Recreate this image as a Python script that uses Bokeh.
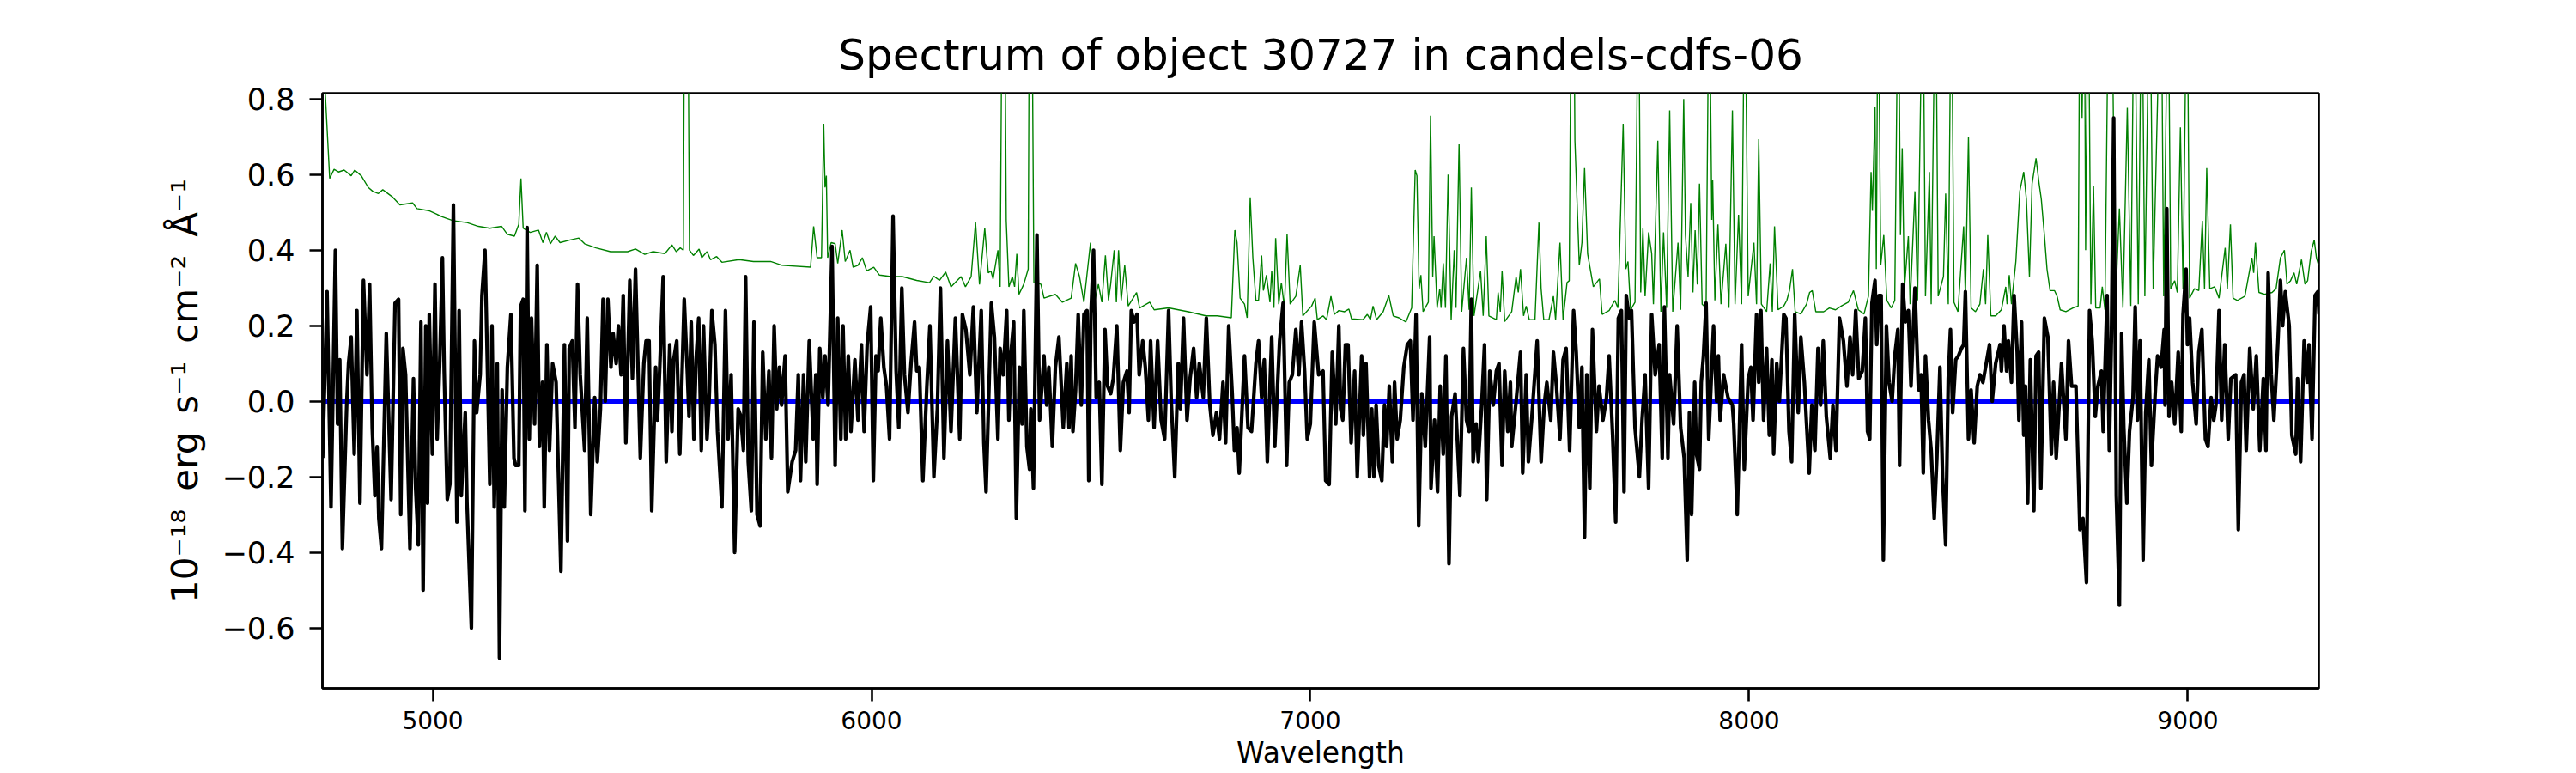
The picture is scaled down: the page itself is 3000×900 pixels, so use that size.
from bokeh.plotting import figure
from bokeh.models import Range1d, FixedTicker, CustomJSTickFormatter, Span, ColumnDataSource
from bokeh.embed import file_html
from bokeh.resources import INLINE

# ---------------- data ----------------
title_text = "Spectrum of object 30727 in candels-cdfs-06"
x_label = "Wavelength"
y_label = "10\u207b\u00b9\u2078\u2002erg\u2002s\u207b\u00b9\u2002cm\u207b\u00b2\u2002\u00c5\u207b\u00b9"

x_ticks = [5000, 6000, 7000, 8000, 9000]
y_ticks = [-0.6, -0.4, -0.2, 0.0, 0.2, 0.4, 0.6, 0.8]
x_limits = [4748.5, 9298.5]
y_limits = [-0.760, 0.8155]
zero_level = 0.0

# observed flux (black)
flux_wave = [
    4749, 4759, 4768, 4778, 4783, 4788, 4794, 4804, 4808, 4814, 4821, 4827, 4834, 4842, 4850, 4856,
    4862, 4868, 4873, 4877, 4883, 4894, 4905, 4914, 4922, 4927, 4932, 4938, 4948, 4956, 4961, 4967,
    4973, 4978, 4984, 4988, 4992, 4999, 5005, 5010, 5016, 5022, 5026, 5033, 5039, 5047, 5055, 5060,
    5065, 5074, 5078, 5088, 5095, 5100, 5108, 5112, 5119, 5126, 5130, 5135, 5140, 5147, 5152, 5158,
    5163, 5170, 5178, 5185, 5189, 5196, 5200, 5206, 5210, 5215, 5220, 5225, 5232, 5238, 5243, 5250,
    5254, 5260, 5266, 5273, 5281, 5292, 5300, 5307, 5311, 5318, 5324, 5330, 5336, 5346, 5352, 5360,
    5369, 5375, 5382, 5388, 5393, 5399, 5406, 5411, 5418, 5423, 5429, 5434, 5440, 5449, 5455, 5462,
    5473, 5481, 5486, 5493, 5499,
    5508, 5512, 5517, 5525, 5532, 5540, 5545, 5549, 5556, 5563, 5573, 5580, 5584, 5589, 5595, 5600,
    5606, 5612, 5617, 5625, 5630, 5636, 5643, 5649, 5659, 5667, 5673, 5680, 5688, 5696, 5702, 5708,
    5713, 5719, 5726, 5732, 5739, 5746, 5752, 5759, 5766, 5772, 5778, 5784, 5790, 5795, 5803, 5809,
    5819, 5827, 5833, 5838, 5845, 5850, 5858, 5867, 5873, 5876, 5882, 5889, 5894, 5901, 5910, 5917,
    5923, 5930, 5935, 5941, 5947, 5953, 5962, 5969, 5977, 5983, 5990, 5998, 6004, 6010, 6015, 6021,
    6028, 6034, 6041, 6049, 6056, 6062, 6069, 6075, 6083, 6090, 6098, 6103, 6109, 6117, 6126, 6133,
    6142, 6150, 6157, 6165, 6173, 6181, 6191, 6201, 6207, 6215, 6224, 6232, 6240, 6250, 6256, 6261,
    6273, 6280, 6288, 6293, 6300, 6308, 6313, 6318, 6324, 6330, 6337, 6343, 6347, 6354, 6360, 6363,
    6369, 6377, 6383, 6393, 6399, 6404, 6412, 6419, 6427, 6437, 6445, 6450, 6455, 6459, 6465, 6471,
    6478, 6484, 6491, 6495, 6500, 6506, 6512, 6519, 6525, 6532, 6538, 6545, 6551, 6559, 6567, 6574,
    6582, 6587, 6592, 6598, 6605, 6610, 6618, 6624, 6631, 6636, 6644, 6652, 6660, 6668, 6677, 6683,
    6691, 6699, 6704, 6711, 6719, 6726, 6734, 6741, 6747, 6756, 6763, 6771, 6778, 6786, 6793, 6801,
    6807, 6814, 6822, 6827, 6833, 6838, 6850, 6858, 6866, 6876, 6882, 6889, 6895, 6902, 6912, 6919,
    6930, 6938, 6946, 6952, 6959, 6967, 6974, 6980, 6987, 6993, 7000, 7009, 7019,
    7029, 7035, 7043, 7050, 7058, 7065, 7069, 7074, 7080, 7086, 7093, 7101, 7107, 7117, 7121, 7127,
    7135, 7140, 7145, 7150, 7156, 7163, 7169, 7174, 7180, 7187, 7192, 7198, 7205, 7213, 7221, 7228,
    7234, 7241, 7247, 7254, 7262, 7272, 7275, 7283, 7290, 7296, 7303, 7309, 7316, 7322, 7330, 7341,
    7349, 7356, 7362, 7367, 7371, 7378, 7383, 7391, 7397, 7402, 7409, 7417, 7424, 7430, 7437, 7443,
    7450, 7456, 7459, 7469, 7479, 7484, 7492, 7497, 7505, 7517, 7526, 7533, 7539, 7548, 7554, 7561,
    7569, 7576, 7583, 7591, 7600, 7606, 7613, 7619, 7625, 7630, 7637, 7643, 7652, 7658, 7667, 7675,
    7681, 7689, 7696, 7702, 7709, 7715, 7720, 7727, 7732, 7740, 7750, 7756, 7763, 7771, 7778, 7786,
    7795, 7802, 7807,
    7815, 7819, 7828, 7836, 7844, 7852, 7859, 7864, 7869, 7876, 7880, 7887, 7891, 7896, 7902, 7908,
    7919, 7926, 7930, 7934, 7942, 7952, 7962, 7965, 7973, 7983, 7989, 7998, 8004, 8009, 8017, 8022,
    8027, 8033, 8040, 8046, 8052, 8056, 8063, 8069, 8079, 8084, 8091, 8097, 8104, 8112, 8118, 8126,
    8131, 8137, 8143, 8150, 8157, 8163, 8169, 8176, 8185, 8191, 8198, 8206, 8215, 8223, 8230, 8236,
    8243, 8250, 8258, 8265, 8270, 8275, 8280, 8287, 8291, 8296, 8301, 8306, 8313, 8319, 8326, 8332,
    8339, 8343, 8350, 8356, 8363, 8369, 8378, 8386, 8392, 8397, 8402, 8409, 8415, 8422, 8428, 8435,
    8441, 8448, 8454, 8459, 8464, 8471, 8477, 8484, 8489, 8493, 8500, 8506, 8513, 8520, 8526, 8533,
    8539, 8548, 8554, 8562, 8572,
    8575, 8581, 8587, 8591, 8598, 8604, 8611, 8615, 8621, 8626, 8630, 8635, 8641, 8649, 8654, 8660,
    8665, 8673, 8681, 8689, 8694, 8700, 8712, 8722, 8728, 8735, 8745, 8754, 8761, 8769, 8776, 8782,
    8789, 8795, 8803, 8807, 8813, 8816, 8821, 8826, 8831, 8837, 8844, 8849, 8854, 8861, 8867, 8875,
    8880, 8885, 8891, 8898, 8904, 8911, 8917, 8926, 8931, 8939, 8946, 8948, 8952, 8957, 8963, 8970,
    8978, 8985, 8989, 8996, 8999, 9004, 9011, 9019, 9025, 9032, 9040, 9046, 9053, 9059, 9064, 9071,
    9077, 9084, 9092, 9098, 9109, 9115, 9122, 9128, 9133, 9141, 9149, 9156, 9164, 9172, 9178, 9183,
    9190, 9196, 9205, 9211, 9216, 9222, 9231, 9237, 9246, 9250, 9257, 9265, 9272, 9276, 9283, 9290,
    9296, 9299,
]
flux_value = [
    -0.15, 0.29, -0.28, 0.40, -0.06, 0.11, -0.39, 0.00, 0.10, 0.17, -0.14, 0.24, -0.27, 0.32, 0.07, 0.31,
    -0.07, -0.25, -0.12, -0.31, -0.39, 0.18, -0.26, 0.26, 0.27, -0.30, 0.14, 0.07, -0.39, 0.06, -0.23, -0.38,
    0.21, -0.50, 0.20, -0.27, 0.23, -0.14, 0.31, -0.10, 0.11, 0.38, 0.08, -0.26, -0.22, 0.52, -0.32, 0.24,
    -0.25, -0.03, -0.27, -0.60, 0.16, -0.03, 0.07, 0.28, 0.40, 0.01, -0.22, 0.20, -0.28, 0.10, -0.68, 0.03,
    -0.28, 0.09, 0.23, -0.15, -0.17, -0.17, 0.25, 0.27, -0.29, 0.46, -0.10, 0.22, -0.06, 0.36, -0.12, 0.05,
    -0.28, 0.15, -0.13, 0.10, 0.05, -0.45, 0.15, -0.37, 0.14, 0.16, -0.07, 0.31, 0.07, -0.13, 0.22, -0.30,
    0.01, -0.16, -0.02, 0.27, 0.00, 0.27, 0.09, 0.18, 0.10, 0.20, 0.07, 0.28, -0.11, 0.32, 0.06, 0.35,
    -0.15, 0.10, 0.16, 0.16, -0.29,
    0.09, -0.05, 0.08, 0.33, -0.16, 0.15, -0.08, 0.11, 0.16, -0.14, 0.27, 0.08, -0.04, 0.21, -0.10, 0.11,
    0.22, -0.13, 0.20, -0.10, 0.01, 0.24, 0.15, -0.08, -0.28, 0.24, -0.10, 0.07, -0.40, -0.02, -0.04, -0.13,
    0.33, -0.16, -0.29, 0.21, -0.30, -0.33, 0.13, -0.10, 0.08, -0.15, 0.20, -0.02, 0.09, -0.01, 0.12, -0.24,
    -0.16, -0.13, 0.07, -0.21, 0.07, -0.16, 0.16, -0.10, 0.07, -0.22, 0.14, 0.01, 0.12, -0.01, 0.41, -0.17,
    0.22, -0.10, 0.20, -0.10, 0.12, -0.08, 0.11, -0.05, 0.15, -0.08, 0.15, 0.25, -0.21, 0.12, 0.08, 0.22,
    0.09, 0.04, -0.10, 0.49, 0.08, -0.07, 0.30, 0.07, -0.03, 0.10, 0.21, 0.08, 0.09, -0.21, 0.04, 0.20,
    -0.20, -0.02, 0.30, -0.15, 0.16, -0.08, 0.22, -0.10, 0.23, 0.19, 0.07, 0.25, -0.03, 0.24, -0.11, -0.24,
    0.26, 0.17, -0.10, 0.14, 0.07, 0.24, -0.05, 0.13, 0.21, -0.31, 0.09, -0.06, 0.24, -0.12, -0.18, -0.02,
    -0.23, 0.44, -0.05, 0.12, -0.01, 0.09, -0.12, 0.09, 0.17, -0.07, 0.10, -0.07, 0.12, -0.08, 0.03, 0.23,
    -0.01, 0.23, 0.24, -0.21, 0.23, 0.40, 0.01, 0.05, -0.22, 0.19, 0.04, 0.02, 0.06, 0.20, -0.13, 0.05,
    0.08, -0.03, 0.24, 0.21, 0.23, 0.07, 0.16, 0.09, -0.05, 0.16, -0.07, 0.16, -0.05, -0.10, 0.24, 0.00,
    -0.20, 0.10, -0.02, 0.22, -0.05, 0.06, 0.14, 0.01, 0.10, 0.01, 0.22, -0.01, -0.09, -0.03, -0.10, 0.05,
    -0.11, 0.20, 0.02, -0.13, -0.07, -0.19, 0.12, -0.07, -0.08, 0.10, 0.16, 0.01, 0.11, -0.16, 0.17, -0.12,
    0.16, 0.26, -0.17, 0.05, 0.07, 0.19, 0.07, 0.21, 0.08, -0.10, -0.06, 0.21, 0.07,
    0.08, -0.21, -0.22, 0.13, -0.06, 0.20, -0.02, -0.05, 0.15, 0.15, -0.11, 0.08, -0.20, 0.12, -0.09, 0.10,
    -0.20, -0.02, -0.20, -0.01, -0.17, -0.21, -0.01, -0.12, 0.04, -0.16, 0.05, -0.10, -0.05, 0.09, 0.15, 0.16,
    -0.05, 0.23, -0.33, 0.02, -0.12, 0.17, -0.23, -0.05, -0.24, 0.04, -0.14, 0.12, -0.43, -0.04, 0.02, -0.25,
    0.14, -0.05, -0.08, 0.27, -0.16, -0.06, -0.16, 0.00, 0.15, -0.26, 0.08, -0.01, 0.08, 0.10, -0.17, 0.08,
    -0.08, 0.05, -0.12, 0.00, 0.13, -0.19, 0.07, -0.16, -0.04, 0.16, -0.16, -0.01, 0.05, -0.05, 0.13, 0.04,
    -0.10, 0.11, 0.14, -0.13, 0.24, 0.13, -0.07, 0.09, -0.36, 0.07, -0.23, 0.19, -0.08, 0.04, -0.05, 0.01,
    0.12, -0.09, -0.32, 0.22, 0.24, -0.24, 0.28, 0.22, 0.24, -0.07, -0.20, -0.05, 0.07, -0.23, 0.23, 0.07,
    0.15, -0.15, 0.25,
    -0.15, 0.07, -0.06, 0.20, -0.07, -0.15, -0.42, -0.03, -0.30, 0.05, -0.14, -0.18, 0.05, 0.12, 0.26, -0.10,
    0.20, 0.00, 0.12, -0.05, 0.07, 0.01, -0.01, -0.06, -0.30, 0.15, -0.18, 0.06, 0.09, -0.05, 0.23, 0.05,
    0.24, -0.05, 0.14, -0.09, 0.11, -0.14, 0.10, 0.00, 0.23, 0.22, -0.08, -0.16, 0.23, -0.03, 0.17, 0.05,
    -0.06, -0.19, -0.01, -0.13, 0.14, -0.01, 0.16, -0.04, -0.15, -0.01, -0.13, 0.22, 0.16, 0.04, 0.17, 0.07,
    0.24, 0.06, 0.08, 0.22, -0.08, -0.10, 0.26, 0.32, 0.15, 0.28, 0.28, -0.42, 0.20, 0.05, 0.00, 0.12,
    0.19, -0.17, 0.31, 0.21, 0.24, 0.04, 0.30, 0.03, 0.07, -0.19, 0.12, -0.05, -0.13, -0.31, -0.15, 0.09,
    -0.20, -0.38, 0.06, 0.19, -0.03, 0.11, 0.12, 0.14, 0.15, 0.29, -0.10, 0.03, -0.11, 0.04, 0.07, 0.05,
    0.09, 0.15, 0.00, 0.10, 0.15,
    0.08, 0.20, 0.08, 0.16, 0.05, 0.28, 0.13, -0.05, 0.21, -0.09, 0.04, -0.27, 0.11, -0.29, 0.12, 0.13,
    -0.23, 0.22, 0.17, -0.14, 0.05, -0.15, 0.10, -0.10, 0.16, 0.04, 0.04, -0.34, -0.31, -0.48, 0.24, 0.16,
    -0.04, 0.04, 0.08, -0.08, 0.16, 0.28, -0.13, 0.18, 0.75, -0.25, -0.54, 0.18, -0.07, -0.27, -0.08, 0.01,
    0.25, -0.05, 0.16, -0.42, -0.03, 0.11, -0.17, 0.03, 0.12, 0.09, 0.19, -0.01, 0.51, -0.04, 0.05, -0.06,
    0.13, -0.08, 0.23, 0.35, 0.15, 0.22, 0.05, -0.06, 0.13, 0.19, -0.10, -0.12, 0.01, -0.05, -0.01, 0.24,
    -0.05, 0.15, -0.10, 0.06, 0.07, -0.34, 0.05, 0.07, -0.13, 0.14, -0.02, 0.12, -0.13, 0.06, -0.13, 0.34,
    0.07, -0.05, 0.15, 0.32, 0.20, 0.29, 0.20, -0.09, -0.14, 0.06, -0.16, 0.16, 0.05, 0.15, -0.10, 0.28,
    0.29, 0.23,
]

# noise / sky spectrum (green); 1.20 marks lines running off the top of the axes
noise_wave = [
    4749, 4765, 4775, 4785, 4798, 4814, 4822, 4837, 4853, 4863, 4876, 4886, 4909, 4925, 4954, 4964,
    4993, 5020, 5046, 5078, 5104, 5130, 5157, 5170, 5186, 5196, 5201, 5206, 5222, 5241, 5251, 5259,
    5268, 5279, 5290, 5313, 5333, 5346, 5372, 5405, 5444, 5462, 5483,
    5502, 5529, 5545, 5555, 5564, 5571, 5574, 5581, 5585, 5594, 5607, 5613, 5625, 5633, 5647, 5659,
    5698, 5731, 5770, 5796, 5861, 5868, 5876, 5886, 5891, 5894, 5897, 5900, 5908, 5917, 5923, 5933,
    5940, 5951, 5958, 5969, 5979, 5989, 6005, 6018, 6044, 6070, 6103, 6132, 6142, 6155, 6169, 6181,
    6204, 6214, 6227, 6237, 6246, 6258,
    6266, 6272, 6277, 6288, 6293, 6298, 6303, 6307, 6313, 6321, 6326, 6331, 6336, 6347, 6357, 6360,
    6365, 6370, 6386, 6393, 6419, 6435, 6455, 6465, 6474, 6484, 6499, 6507, 6517, 6525, 6533, 6540,
    6545, 6553, 6558, 6563, 6569, 6577, 6585, 6604, 6611, 6634, 6644, 6677, 6722, 6762, 6788, 6820,
    6828, 6833, 6840, 6850, 6856, 6863, 6869, 6876, 6882, 6889, 6893, 6900, 6908, 6912, 6917, 6921,
    6928, 6934, 6941, 6947, 6954, 6967, 6977, 6983, 7003, 7011, 7016,
    7029, 7037, 7047, 7055, 7065, 7078, 7088, 7094, 7120, 7130, 7137, 7143, 7151, 7166, 7179, 7189,
    7202, 7218, 7231, 7239, 7243, 7248, 7252, 7257, 7269, 7274, 7279, 7282, 7289, 7295, 7298, 7303,
    7308, 7314, 7321, 7328, 7332, 7339, 7345, 7356, 7362, 7367, 7373, 7388, 7394, 7401, 7407, 7424,
    7428, 7433, 7437, 7443, 7459, 7469, 7474, 7479, 7486, 7492, 7499, 7512, 7521, 7526, 7532, 7544,
    7554, 7559, 7569, 7576, 7585, 7590, 7595, 7600, 7603, 7613, 7619, 7625, 7632, 7645, 7659, 7665,
    7681, 7694, 7701, 7713, 7719, 7724, 7730, 7740, 7748, 7753, 7758, 7763, 7771, 7778, 7782,
    7792, 7799, 7805, 7812, 7819, 7826, 7838, 7844, 7851, 7855, 7861, 7867, 7872, 7877, 7882, 7887,
    7893, 7902, 7909, 7915, 7917, 7922, 7929, 7936, 7947, 7954, 7962, 7968, 7976, 7983, 7990, 7998,
    8011, 8017, 8022, 8028, 8040, 8048, 8053, 8058, 8066, 8079, 8086, 8092, 8099, 8105, 8118, 8131,
    8138, 8144, 8152, 8170, 8183, 8197, 8210, 8226, 8238, 8249, 8262, 8272, 8278, 8281, 8287, 8290,
    8294, 8300, 8307, 8314, 8324, 8332, 8340, 8345, 8349, 8354, 8363, 8367, 8378, 8384, 8396, 8402,
    8411, 8415, 8425, 8431, 8443, 8448, 8454, 8461, 8467, 8476, 8489, 8493, 8500, 8506, 8516, 8526,
    8534, 8539, 8544, 8551, 8562,
    8575, 8585, 8588, 8593, 8598, 8608, 8617, 8626, 8632, 8639, 8645, 8654, 8661, 8666, 8673, 8679,
    8686, 8696, 8702, 8709, 8722, 8738, 8750, 8754, 8759, 8764, 8767, 8773, 8779, 8785, 8790, 8800,
    8805, 8811, 8820, 8826, 8835, 8844, 8852, 8862, 8870, 8878, 8887, 8895, 8902, 8913, 8921, 8939,
    8945, 8955, 8961, 8970, 8976, 8983, 8989, 8998, 9004, 9015, 9025, 9033, 9038, 9043, 9050, 9061,
    9071, 9085, 9090, 9097, 9103, 9113, 9130, 9146, 9150, 9154, 9162, 9175, 9192, 9201, 9211, 9220,
    9226, 9234, 9242, 9248, 9259, 9267, 9273, 9281, 9288, 9293, 9298,
]
noise_value = [
    0.95, 0.590, 0.614, 0.607, 0.612, 0.597, 0.612, 0.597, 0.566, 0.556, 0.550, 0.560, 0.540, 0.520, 0.525, 0.510,
    0.504, 0.489, 0.478, 0.473, 0.463, 0.458, 0.463, 0.442, 0.437, 0.468, 0.590, 0.458, 0.447, 0.453, 0.420, 0.447,
    0.417, 0.437, 0.420, 0.427, 0.432, 0.417, 0.406, 0.396, 0.396, 0.403, 0.389,
    0.396, 0.391, 0.414, 0.396, 0.406, 0.400, 1.20, 1.20, 0.400, 0.386, 0.403, 0.380, 0.396, 0.375, 0.383, 0.368,
    0.375, 0.370, 0.370, 0.360, 0.355, 0.463, 0.380, 0.380, 0.735, 0.566, 0.597, 0.380, 0.420, 0.417, 0.365, 0.453,
    0.370, 0.400, 0.355, 0.360, 0.380, 0.345, 0.355, 0.334, 0.330, 0.330, 0.320, 0.314, 0.331, 0.320, 0.342, 0.303,
    0.330, 0.303, 0.330, 0.473, 0.309, 0.458,
    0.340, 0.345, 0.324, 0.400, 0.303, 1.20, 1.20, 0.478, 0.303, 0.330, 0.303, 0.390, 0.283, 0.310, 0.350, 1.20,
    1.20, 0.314, 0.310, 0.273, 0.283, 0.262, 0.273, 0.365, 0.330, 0.262, 0.420, 0.257, 0.310, 0.262, 0.386, 0.267,
    0.310, 0.400, 0.262, 0.400, 0.267, 0.360, 0.252, 0.288, 0.247, 0.262, 0.242, 0.247, 0.237, 0.226, 0.226, 0.221,
    0.453, 0.420, 0.273, 0.257, 0.221, 0.540, 0.380, 0.267, 0.267, 0.386, 0.293, 0.334, 0.262, 0.345, 0.247, 0.432,
    0.257, 0.314, 0.247, 0.442, 0.257, 0.278, 0.360, 0.226, 0.252, 0.273, 0.216,
    0.226, 0.216, 0.278, 0.230, 0.240, 0.237, 0.244, 0.218, 0.216, 0.230, 0.216, 0.252, 0.216, 0.237, 0.280, 0.226,
    0.221, 0.210, 0.247, 0.612, 0.597, 0.298, 0.334, 0.237, 0.262, 0.756, 0.330, 0.437, 0.247, 0.298, 0.247, 0.365,
    0.247, 0.600, 0.216, 0.400, 0.247, 0.680, 0.237, 0.380, 0.242, 0.566, 0.226, 0.345, 0.226, 0.437, 0.226, 0.216,
    0.288, 0.237, 0.345, 0.211, 0.237, 0.330, 0.288, 0.350, 0.226, 0.252, 0.216, 0.216, 0.473, 0.298, 0.216, 0.216,
    0.278, 0.216, 0.420, 0.216, 0.314, 0.319, 1.20, 1.20, 0.690, 0.360, 0.420, 0.617, 0.390, 0.303, 0.324, 0.230,
    0.240, 0.267, 0.247, 0.735, 0.350, 0.370, 0.242, 0.262, 1.20, 0.288, 0.458, 0.278, 0.447, 0.391, 0.257,
    0.690, 0.237, 0.447, 0.247, 0.770, 0.237, 0.420, 0.242, 0.800, 0.440, 0.330, 0.525, 0.288, 0.453, 0.309, 0.576,
    0.257, 0.247, 1.20, 0.480, 0.586, 0.267, 0.468, 0.257, 0.417, 0.247, 0.770, 0.257, 0.494, 0.257, 1.20, 0.278,
    0.420, 0.257, 0.694, 0.257, 0.237, 0.365, 0.237, 0.463, 0.242, 0.252, 0.267, 0.293, 0.350, 0.237, 0.231, 0.257,
    0.288, 0.293, 0.237, 0.237, 0.247, 0.242, 0.252, 0.262, 0.293, 0.242, 0.231, 0.278, 0.607, 0.504, 0.780, 0.350,
    1.20, 0.360, 0.440, 0.267, 0.247, 0.267, 1.20, 0.440, 0.670, 0.298, 0.437, 0.257, 0.556, 0.267, 1.20, 0.278,
    0.607, 0.257, 1.20, 0.278, 0.330, 0.550, 0.257, 1.20, 0.262, 0.237, 0.463, 0.278, 0.700, 0.247, 0.237, 0.257,
    0.350, 0.257, 0.440, 0.226, 0.226,
    0.242, 0.303, 0.257, 0.334, 0.257, 0.370, 0.556, 0.607, 0.535, 0.330, 0.576, 0.643, 0.576, 0.535, 0.440, 0.350,
    0.293, 0.293, 0.278, 0.242, 0.237, 0.247, 0.252, 1.20, 0.750, 1.20, 0.400, 1.20, 0.257, 0.570, 0.247, 0.247,
    0.303, 0.242, 1.20, 1.20, 0.257, 0.510, 0.247, 0.777, 0.252, 1.20, 0.257, 1.20, 0.278, 1.20, 0.298, 1.20,
    0.278, 1.20, 0.298, 0.319, 0.288, 0.725, 0.298, 1.20, 0.273, 0.298, 0.293, 0.478, 0.298, 0.617, 0.298, 0.303,
    0.273, 0.406, 0.298, 0.468, 0.273, 0.267, 0.278, 0.380, 0.340, 0.420, 0.288, 0.283, 0.288, 0.298, 0.380, 0.400,
    0.310, 0.319, 0.340, 0.310, 0.375, 0.310, 0.319, 0.396, 0.427, 0.380, 0.360,
]

# ---------------- figure ----------------
FONT = "DejaVu Sans"

p = figure(
    width=3000, height=900,
    output_backend="svg", toolbar_location=None,
    x_range=Range1d(x_limits[0], x_limits[1]),
    y_range=Range1d(y_limits[0], y_limits[1]),
    min_border_left=375, min_border_right=300,
    min_border_top=108, min_border_bottom=99,
    background_fill_color="white", border_fill_color="white",
)

p.title.text = title_text
p.title.align = "center"
p.title.text_font = FONT
p.title.text_font_size = "50px"
p.title.text_font_style = "normal"
p.title.text_color = "black"
p.title.standoff = 31

p.xgrid.visible = False
p.ygrid.visible = False
p.outline_line_color = "black"
p.outline_line_width = 2.6
p.outline_line_alpha = 1.0

for ax in (p.xaxis[0], p.yaxis[0]):
    ax.axis_line_color = "black"
    ax.axis_line_width = 2.6
    ax.major_tick_line_color = "black"
    ax.major_tick_line_width = 2.6
    ax.major_tick_out = 15
    ax.major_tick_in = 0
    ax.minor_tick_line_color = None
    ax.major_label_text_font = FONT
    ax.major_label_text_color = "black"
    ax.axis_label_text_font = FONT
    ax.axis_label_text_font_style = "normal"
    ax.axis_label_text_color = "black"

xa = p.xaxis[0]
xa.ticker = FixedTicker(ticks=x_ticks)
xa.major_label_text_font_size = "28px"
xa.major_label_standoff = 11
xa.axis_label = x_label
xa.axis_label_text_font_size = "33px"
xa.axis_label_standoff = 5

ya = p.yaxis[0]
ya.ticker = FixedTicker(ticks=y_ticks)
ya.formatter = CustomJSTickFormatter(code="return tick.toFixed(1).replace('-', '\u2212');")
ya.major_label_text_font_size = "35px"
ya.major_label_standoff = 17
ya.axis_label = y_label
ya.axis_label_text_font_size = "42px"
ya.axis_label_standoff = 16

zero_line = Span(location=zero_level, dimension="width", line_color="#0000ff",
                 line_width=5.5, level="underlay")
p.add_layout(zero_line)

noise_src = ColumnDataSource(data=dict(x=noise_wave, y=noise_value))
flux_src = ColumnDataSource(data=dict(x=flux_wave, y=flux_value))

p.line("x", "y", source=noise_src, line_color="#008000", line_width=1.4)
p.line("x", "y", source=flux_src, line_color="black", line_width=4.2, line_join="round")

open("out.html", "w").write(file_html(p, INLINE))
